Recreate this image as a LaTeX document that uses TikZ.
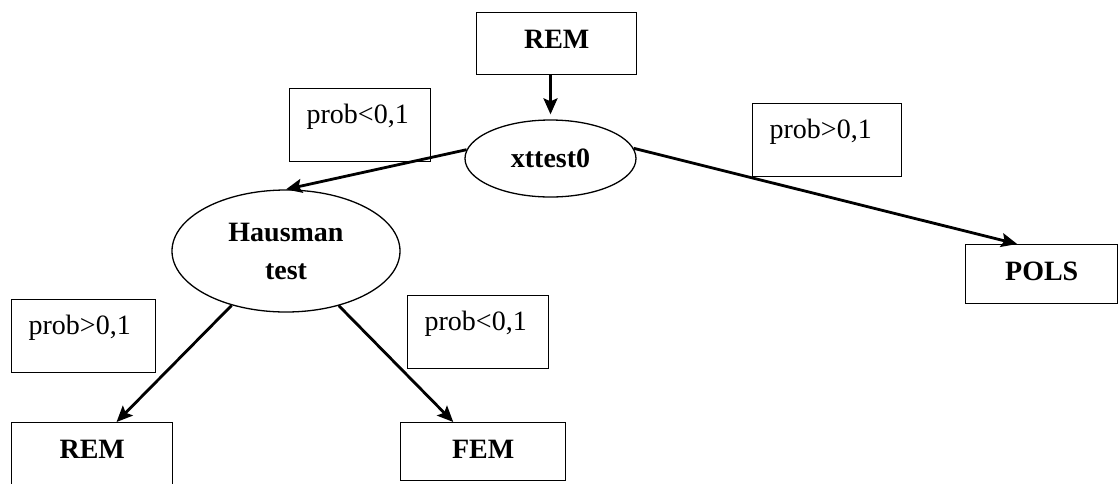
\documentclass[tikz,border=0pt]{standalone}
\usepackage{fontspec}
\setmainfont{Liberation Serif}
\usetikzlibrary{arrows.meta,shapes.geometric,calc}
\begin{document}
\begin{tikzpicture}[x=1pt,y=-1pt,
  every node/.style={font=\fontsize{28}{33}\selectfont},
  bbox/.style={draw,line width=1.4pt,inner sep=0pt,font=\fontsize{28}{33}\selectfont\bfseries,text height=36pt,text depth=23pt,anchor=north west},
  lbox/.style={draw,line width=1.3pt,inner ysep=0pt,inner xsep=17pt,align=left,text height=35pt,text depth=38pt,anchor=north west},
  oval/.style={draw,ellipse,line width=1.3pt,inner sep=0pt,font=\fontsize{28}{33}\selectfont\bfseries,align=center},
  arr/.style={line width=2.8pt,-{Stealth[length=16pt,width=14pt,inset=3pt]}}
]
\useasboundingbox (0,0) rectangle (1118,483);
\fill[white] (0,0) rectangle (1118,483);
\node[bbox,minimum width=160pt,text depth=26pt] (rem) at (476,12) {REM};
\node[oval,minimum width=171pt,minimum height=77pt] (xt) at (550.5,158.5) {xttest0};
\node[lbox,text width=107pt] (l1) at (289,88) {prob<0,1};
\node[lbox,text width=115pt] (l2) at (752,103) {prob>0,1};
\node[bbox,minimum width=152pt] (pols) at (965,244) {POLS};
\node[oval,minimum width=228pt,minimum height=122pt] (h) at (286,251) {Hausman\\[5pt]test};
\node[lbox,text width=110pt] (l3) at (11,299) {prob>0,1};
\node[lbox,text width=107pt] (l4) at (407,295) {prob<0,1};
\node[bbox,minimum width=161pt,text depth=40pt] (rem2) at (11,422) {REM};
\node[bbox,minimum width=165pt,text depth=22pt] (fem) at (400,422) {FEM};
\draw[arr,shorten >=5pt] (xt.north |- rem.south) -- (xt.north);
\draw[arr] (xt.174) -- (h.north);
\draw[arr] (xt.7) -- ($(pols.north west)!0.34!(pols.north east)$);
\draw[arr] (h.225) -- ($(rem2.north west)!0.65!(rem2.north east)$);
\draw[arr] (h.314) -- ($(fem.north west)!0.32!(fem.north east)$);
\end{tikzpicture}
\end{document}
